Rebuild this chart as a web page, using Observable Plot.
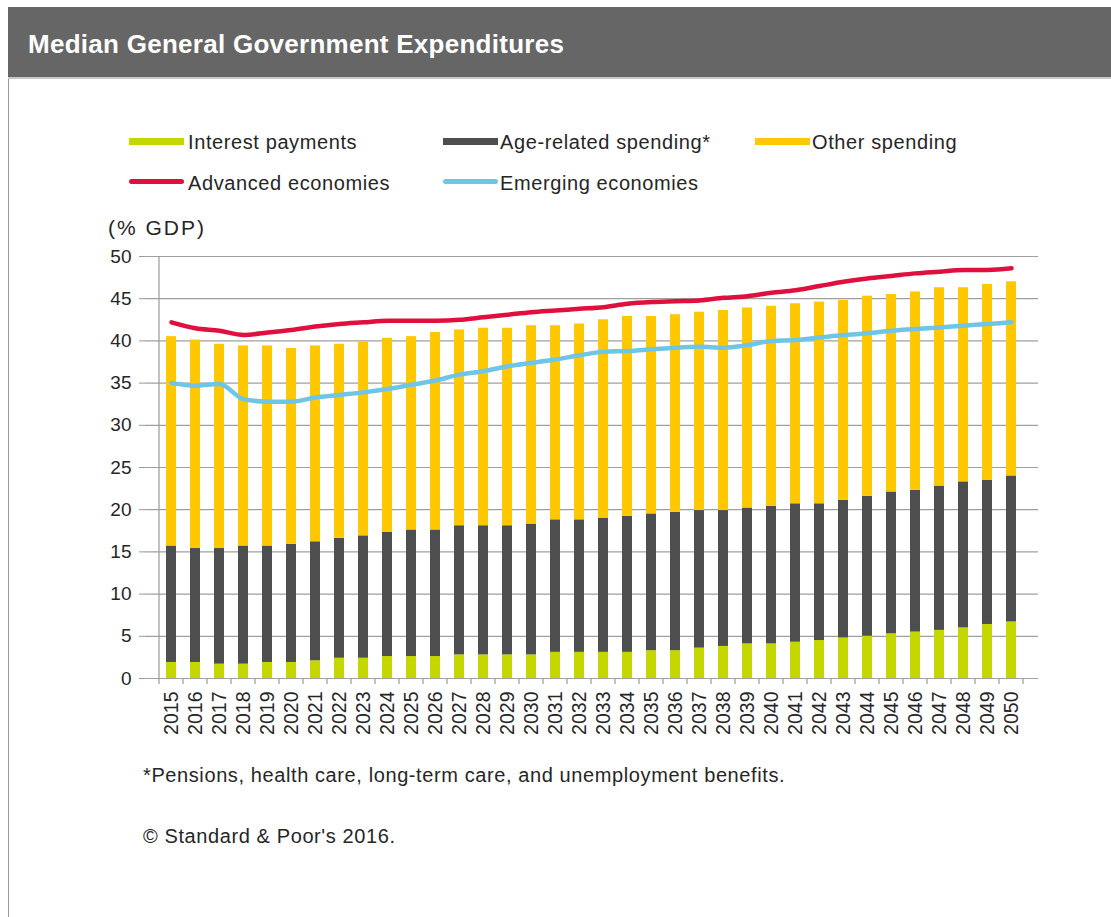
<!DOCTYPE html>
<html>
<head>
<meta charset="utf-8">
<script src="https://cdn.jsdelivr.net/npm/d3@7"></script>
<script src="https://cdn.jsdelivr.net/npm/@observablehq/plot@0.6"></script>
<style>
  html, body { margin: 0; padding: 0; background: #fff; }
  body { width: 1111px; height: 917px; position: relative; overflow: hidden; font-family: "Liberation Sans", Arial, sans-serif; color: #262626; }
  .abs { position: absolute; white-space: nowrap; line-height: 1; }
  #header { position: absolute; left: 8px; top: 7px; width: 1103px; height: 70px; background: #666666; border-bottom: 2px solid #c8c8c8; }
  #panel { position: absolute; left: 8px; top: 79px; width: 1110px; height: 850px; border-left: 1px solid #9a9a9a; }
  #title { left: 28px; top: 31px; font-size: 26px; font-weight: bold; color: #fff; letter-spacing: 0.27px; }
  .leg { font-size: 20px; letter-spacing: 0.6px; }
  .sw { position: absolute; }
  #chart { position: absolute; left: 0; top: 240px; }
</style>
</head>
<body>
<div id="header"></div>
<div id="panel"></div>
<div class="abs" id="title">Median General Government Expenditures</div>
<div id="legend"></div>
<div class="abs leg" style="left:108px; top:217px; font-size:21px; letter-spacing:2px;">(% GDP)</div>
<div id="chart"></div>
<div class="abs leg" style="left:143px; top:765px;">*Pensions, health care, long-term care, and unemployment benefits.</div>
<div class="abs leg" style="left:143px; top:826px;">© Standard &amp; Poor's 2016.</div>
<script>
const years = ["2015","2016","2017","2018","2019","2020","2021","2022","2023","2024","2025","2026","2027","2028","2029","2030","2031","2032","2033","2034","2035","2036","2037","2038","2039","2040","2041","2042","2043","2044","2045","2046","2047","2048","2049","2050"];
const interestPayments = [1.9,1.9,1.7,1.7,1.9,1.9,2.1,2.4,2.4,2.6,2.6,2.6,2.8,2.8,2.8,2.8,3.1,3.1,3.1,3.1,3.3,3.3,3.6,3.8,4.1,4.1,4.3,4.5,4.8,5.0,5.3,5.5,5.7,6.0,6.4,6.7];
const ageRelated = [13.8,13.5,13.7,14.0,13.8,14.0,14.1,14.2,14.5,14.7,15.0,15.0,15.3,15.3,15.3,15.5,15.7,15.7,15.9,16.1,16.2,16.4,16.3,16.1,16.1,16.3,16.4,16.2,16.3,16.6,16.8,16.8,17.1,17.3,17.1,17.3];
const otherSpending = [24.8,24.7,24.2,23.7,23.7,23.2,23.2,23.0,23.0,23.0,22.9,23.4,23.2,23.4,23.4,23.5,23.0,23.2,23.5,23.7,23.4,23.4,23.5,23.7,23.7,23.7,23.7,23.9,23.7,23.7,23.4,23.5,23.5,23.0,23.2,23.0];
const advancedEconomies = [42.2,41.5,41.2,40.7,41.0,41.3,41.7,42.0,42.2,42.4,42.4,42.4,42.5,42.8,43.1,43.4,43.6,43.8,44.0,44.4,44.6,44.7,44.8,45.1,45.3,45.7,46.0,46.5,47.0,47.4,47.7,48.0,48.2,48.4,48.4,48.6];
const emergingEconomies = [35.0,34.7,34.9,33.1,32.8,32.8,33.3,33.6,33.9,34.3,34.8,35.3,36.0,36.4,37.0,37.4,37.8,38.3,38.7,38.8,39.0,39.2,39.3,39.2,39.5,40.0,40.1,40.4,40.7,40.9,41.2,41.4,41.6,41.8,42.0,42.2];
const yTicks = [0,5,10,15,20,25,30,35,40,45,50];

const barSeries = ["Interest payments","Age-related spending*","Other spending"];
const barColors = ["#c5d700","#4d4e50","#ffc800"];
const lineSeries = ["Advanced economies","Emerging economies"];
const lineColors = ["#e0103e","#6ec5e6"];

// Legend (HTML)
const legend = document.getElementById("legend");
const legItems = [
  {label: barSeries[0], color: barColors[0], kind: "bar", sx: 129, tx: 188, row: 0},
  {label: barSeries[1], color: barColors[1], kind: "bar", sx: 443, tx: 500, row: 0},
  {label: barSeries[2], color: barColors[2], kind: "bar", sx: 755, tx: 812, row: 0},
  {label: lineSeries[0], color: lineColors[0], kind: "line", sx: 129, tx: 188, row: 1},
  {label: lineSeries[1], color: lineColors[1], kind: "line", sx: 443, tx: 500, row: 1}
];
for (const it of legItems) {
  const sw = document.createElement("div");
  sw.className = "sw";
  const cy = it.row === 0 ? 141 : 181;
  const h = it.kind === "bar" ? 7 : 5;
  sw.style.cssText = `left:${it.sx}px; top:${cy - h/2}px; width:55px; height:${h}px; background:${it.color}; border-radius:${it.kind === "line" ? 3 : 0}px;`;
  legend.appendChild(sw);
  const t = document.createElement("div");
  t.className = "abs leg";
  t.style.left = it.tx + "px";
  t.style.top = (it.row === 0 ? 132 : 173) + "px";
  t.textContent = it.label;
  legend.appendChild(t);
}

// Data tables
const bars = [];
years.forEach((yr, i) => {
  bars.push({year: yr, series: barSeries[0], value: interestPayments[i]});
  bars.push({year: yr, series: barSeries[1], value: ageRelated[i]});
  bars.push({year: yr, series: barSeries[2], value: otherSpending[i]});
});
const lines = [];
years.forEach((yr, i) => {
  lines.push({year: yr, series: lineSeries[0], value: advancedEconomies[i]});
});
years.forEach((yr, i) => {
  lines.push({year: yr, series: lineSeries[1], value: emergingEconomies[i]});
});

// Boundary ticks and left axis line, computed from scales
function frameTicks(index, scales) {
  const x = scales.x, y = scales.y;
  const step = x(years[1]) - x(years[0]);
  const bw = typeof x.bandwidth === "function" ? x.bandwidth() : step * 0.43;
  const g = d3.create("svg:g").attr("stroke", "#999999").attr("stroke-width", 1.2);
  const y0 = y(0), y50 = y(50);
  const bounds = years.map(yr => x(yr) + bw / 2 - step / 2);
  bounds.push(x(years[years.length - 1]) + bw / 2 + step / 2);
  for (const bx of bounds) {
    g.append("line").attr("x1", bx).attr("x2", bx).attr("y1", y0).attr("y2", y0 + 6);
  }
  g.append("line").attr("x1", bounds[0]).attr("x2", bounds[0]).attr("y1", y0).attr("y2", y50);
  return g.node();
}

const chart = Plot.plot({
  width: 1111,
  height: 520,
  marginLeft: 145,
  marginRight: 73,
  marginTop: 16,
  marginBottom: 82,
  style: {fontFamily: "'Liberation Sans', Arial, sans-serif", color: "#262626", background: "transparent", overflow: "visible"},
  x: {type: "band", domain: years, paddingInner: 0.57, paddingOuter: 0.285, label: null},
  y: {domain: [0, 50], label: null},
  color: {domain: barSeries.concat(lineSeries), range: barColors.concat(lineColors)},
  marks: [
    Plot.ruleY(yTicks, {stroke: "#a0a0a0", strokeWidth: 1.2}),
    Plot.barY(bars, {x: "year", y: "value", fill: "series"}),
    Plot.line(lines, {x: "year", y: "value", z: "series", stroke: "series", strokeWidth: 4.5, curve: "monotone-x", strokeLinecap: "round"}),
    frameTicks,
    Plot.axisY(yTicks, {tickSize: 6, tickPadding: 8, stroke: "#999999", fill: "#262626", fontSize: 19, label: null}),
    Plot.axisX({tickSize: 0, tickPadding: 13, tickRotate: -90, fontSize: 19.5, fill: "#262626", label: null})
  ]
});
document.getElementById("chart").appendChild(chart);
</script>
</body>
</html>
